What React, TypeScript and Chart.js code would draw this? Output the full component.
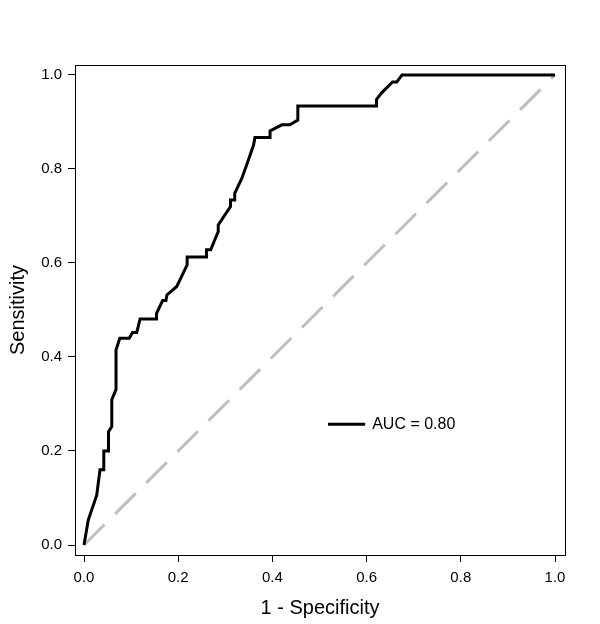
import React, { useEffect, useRef } from "react";
import { Chart, registerables } from "chart.js";

Chart.register(...registerables);

// ROC curve (1 - specificity, sensitivity)
const fprValues = [
  0, 0.009, 0.027, 0.034, 0.042, 0.042, 0.052, 0.052, 0.059, 0.059, 0.068, 0.068,
  0.076, 0.096, 0.103, 0.112, 0.119, 0.153, 0.154, 0.167, 0.174, 0.176, 0.197,
  0.207, 0.219, 0.219, 0.26, 0.26, 0.269, 0.285, 0.285, 0.311, 0.311, 0.319, 0.32,
  0.335, 0.349, 0.36, 0.363, 0.395, 0.395, 0.42, 0.437, 0.454, 0.454, 0.621, 0.621,
  0.632, 0.655, 0.664, 0.675, 1.0,
];
const tprValues = [
  0, 0.053, 0.106, 0.16, 0.16, 0.2, 0.2, 0.241, 0.252, 0.309, 0.331, 0.415,
  0.44, 0.44, 0.452, 0.452, 0.481, 0.481, 0.493, 0.52, 0.52, 0.532, 0.55,
  0.571, 0.596, 0.613, 0.613, 0.628, 0.628, 0.667, 0.681, 0.72, 0.734, 0.734, 0.748,
  0.78, 0.819, 0.851, 0.867, 0.867, 0.881, 0.894, 0.894, 0.904, 0.934, 0.934, 0.948,
  0.962, 0.985, 0.985, 1.0, 1.0,
];
const refX = [0, 1];
const refY = [0, 1];
const tickValues = [0, 0.2, 0.4, 0.6, 0.8, 1.0];
const rocLabel = "AUC = 0.80";
const xTitle = "1 - Specificity";
const yTitle = "Sensitivity";
const legendPos = { x0: 0.518, x1: 0.597, y: 0.257 };

const FONT = "'Liberation Sans', Arial, sans-serif";

const boxPlugin = {
  id: "boxPlugin",
  afterDraw(chart: any) {
    const { ctx, chartArea } = chart;
    ctx.save();
    ctx.strokeStyle = "#000";
    ctx.lineWidth = 1;
    ctx.strokeRect(
      Math.round(chartArea.left) + 0.5,
      Math.round(chartArea.top) + 0.5,
      Math.round(chartArea.right - chartArea.left),
      Math.round(chartArea.bottom - chartArea.top)
    );
    // legend
    const xs = chart.scales.x;
    const ys = chart.scales.y;
    const ds = chart.data.datasets[0];
    const px0 = xs.getPixelForValue(legendPos.x0);
    const px1 = xs.getPixelForValue(legendPos.x1);
    const py = ys.getPixelForValue(legendPos.y);
    ctx.beginPath();
    ctx.strokeStyle = ds.borderColor;
    ctx.lineWidth = ds.borderWidth;
    ctx.moveTo(px0, py);
    ctx.lineTo(px1, py);
    ctx.stroke();
    ctx.fillStyle = "#000";
    ctx.font = `16px ${FONT}`;
    ctx.textAlign = "left";
    ctx.textBaseline = "middle";
    ctx.fillText(ds.label, px1 + 7, py);
    ctx.restore();
  },
};

export default function App() {
  const ref = useRef<HTMLCanvasElement>(null);
  useEffect(() => {
    document.body.style.margin = "0";
    const rocData = fprValues.map((x, i) => ({ x, y: tprValues[i] }));
    const refData = refX.map((x, i) => ({ x, y: refY[i] }));
    const axisCommon = (title: string, isX: boolean) => ({
      type: "linear" as const,
      min: isX ? -9 / 471 : -10 / 470,
      max: isX ? 1 + 10 / 471 : 1 + 10 / 470,
      afterBuildTicks: (s: any) => {
        s.ticks = tickValues.map((v) => ({ value: v }));
      },
      afterFit: (s: any) => {
        if (isX) s.height = 69;
        else s.width = 75;
      },
      border: { display: false },
      grid: {
        display: true,
        drawOnChartArea: false,
        drawTicks: true,
        tickLength: 7,
        color: "#000",
        lineWidth: 1,
      },
      ticks: {
        color: "#000",
        font: { family: FONT, size: 15 },
        padding: isX ? 7 : 6,
        maxRotation: 0,
        callback: (v: any) => Number(v).toFixed(1),
      },
      title: {
        display: true,
        text: title,
        color: "#000",
        font: { family: FONT, size: 20 },
        padding: isX ? { top: 0, bottom: 4 } : { top: 6, bottom: 0 },
      },
    });
    const chart = new Chart(ref.current as HTMLCanvasElement, {
      type: "scatter",
      data: {
        datasets: [
          {
            label: rocLabel,
            data: rocData,
            showLine: true,
            borderColor: "#000",
            borderWidth: 3,
            pointRadius: 0,
            tension: 0,
            borderJoinStyle: "miter",
          },
          {
            label: "reference",
            data: refData,
            showLine: true,
            borderColor: "#BEBEBE",
            borderWidth: 3,
            borderDash: [29, 15],
            borderCapStyle: "butt",
            pointRadius: 0,
          },
        ],
      },
      options: {
        responsive: false,
        animation: false,
        layout: { padding: { top: 65, right: 35, left: 0, bottom: 0 } },
        plugins: { legend: { display: false }, tooltip: { enabled: false } },
        scales: {
          x: axisCommon(xTitle, true),
          y: axisCommon(yTitle, false),
        },
      },
      plugins: [boxPlugin],
    } as any);
    return () => chart.destroy();
  }, []);
  return (
    <div style={{ width: 600, height: 624, background: "#fff" }}>
      <canvas ref={ref} width={600} height={624} style={{ display: "block" }} />
    </div>
  );
}
